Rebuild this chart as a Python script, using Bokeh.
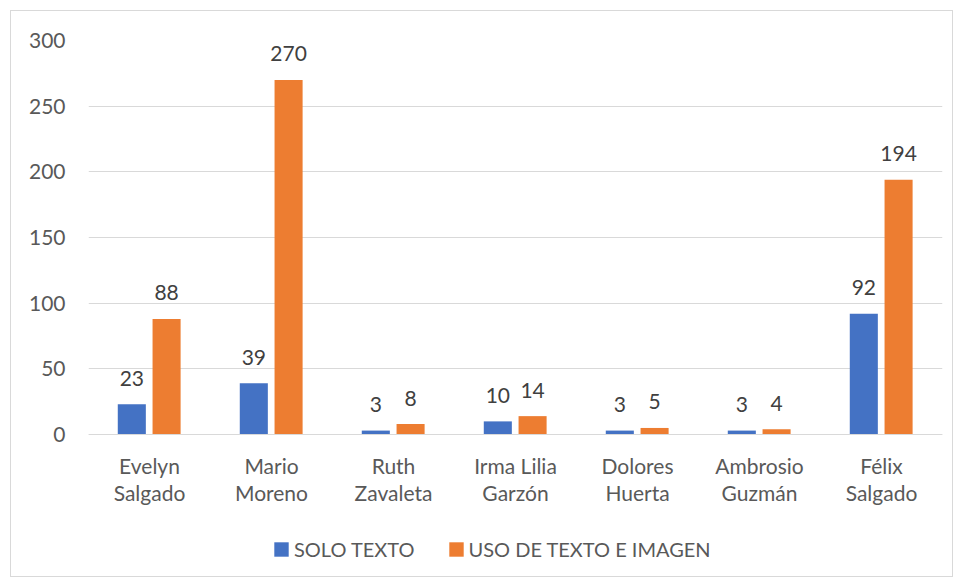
from bokeh.plotting import figure
from bokeh.models import (ColumnDataSource, FactorRange, Legend, LegendItem, FixedTicker,
                          Range1d)
from bokeh.transform import dodge
from bokeh.embed import file_html
from bokeh.resources import INLINE
from bokeh.core.properties import value

categories = ["Evelyn\nSalgado", "Mario\nMoreno", "Ruth\nZavaleta", "Irma Lilia\nGarzón",
              "Dolores\nHuerta", "Ambrosio\nGuzmán", "Félix\nSalgado"]
solo_texto = [23, 39, 3, 10, 3, 3, 92]
texto_imagen = [88, 270, 8, 14, 5, 4, 194]
series_names = ["SOLO TEXTO", "USO DE TEXTO E IMAGEN"]
y_ticks = [0, 50, 100, 150, 200, 250, 300]

FONT = "Lato"
TXT = "#595959"
BLUE = "#4472C4"
ORANGE = "#ED7D31"

src = ColumnDataSource(dict(cat=categories, a=solo_texto, b=texto_imagen,
                            la=[str(v) for v in solo_texto], lb=[str(v) for v in texto_imagen]))

p = figure(x_range=FactorRange(*categories), y_range=Range1d(-108.1, 300),
           frame_width=854, frame_height=536, output_backend="svg", toolbar_location=None,
           min_border_left=77, min_border_right=10, min_border_top=29, min_border_bottom=0)
p.margin = (10, 0, 0, 10)
p.styles = {"border": "1px solid #d9d9d9"}
p.outline_line_color = None
p.background_fill_color = "white"
p.border_fill_color = "white"

ra = p.vbar(x=dodge("cat", -0.145, range=p.x_range), top="a", bottom=0, width=0.23, source=src,
            fill_color=BLUE, line_color=None)
rb = p.vbar(x=dodge("cat", 0.14, range=p.x_range), top="b", bottom=0, width=0.23, source=src,
            fill_color=ORANGE, line_color=None)

p.text(x=dodge("cat", -0.145, range=p.x_range), y="a", text="la", source=src,
       text_align="center", text_baseline="alphabetic", y_offset=-26,
       text_font=value(FONT), text_font_size="21px", text_color="#404040")
p.text(x=dodge("cat", 0.14, range=p.x_range), y="b", text="lb", source=src,
       text_align="center", text_baseline="alphabetic", y_offset=-26,
       text_font=value(FONT), text_font_size="21px", text_color="#404040")

p.yaxis.ticker = FixedTicker(ticks=y_ticks)
p.yaxis.axis_line_color = None
p.yaxis.major_tick_line_color = None
p.yaxis.minor_tick_line_color = None
p.yaxis.major_label_standoff = 17
p.yaxis.major_label_text_font = FONT
p.yaxis.major_label_text_font_size = "21px"
p.yaxis.major_label_text_color = TXT

p.xaxis.fixed_location = 0
p.xaxis.axis_line_color = "#d9d9d9"
p.xaxis.axis_line_width = 1
p.xaxis.major_tick_line_color = None
p.xaxis.minor_tick_line_color = None
p.xaxis.major_label_standoff = 12
p.xaxis.major_label_text_font = FONT
p.xaxis.major_label_text_font_size = "21px"
p.xaxis.major_label_text_color = TXT
p.xaxis.major_label_text_line_height = 1.1

p.xgrid.grid_line_color = None
p.ygrid.grid_line_color = "#d9d9d9"
p.ygrid.grid_line_width = 1

legend = Legend(items=[LegendItem(label=series_names[0], renderers=[ra]),
                       LegendItem(label=series_names[1], renderers=[rb])],
                orientation="horizontal", location=(184, 15),
                glyph_width=18, glyph_height=18, label_standoff=4, spacing=32,
                label_text_font=FONT, label_text_font_size="20px", label_text_color=TXT,
                border_line_color=None, background_fill_alpha=0, margin=0, padding=0)
p.add_layout(legend, "center")

open("out.html", "w").write(file_html(p, INLINE))
